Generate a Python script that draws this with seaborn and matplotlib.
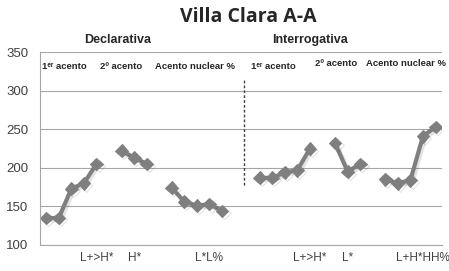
import matplotlib
matplotlib.use("Agg")
import matplotlib.pyplot as plt
import matplotlib.patheffects as pe
import numpy as np
import pandas as pd
import seaborn as sns

# F0 values (Hz) per category slot; None = empty slot between groups
declarativa = [135, 135, 173, 180, 205, None, 222, 213, 205, None,
               174, 156, 151, 153, 144, None]
interrogativa = [None, 187, 187, 194, 197, 225, None, 232, 195, 205, None,
                 185, 180, 184, 241, 253]
tick_labels = ["", "", "", "", "L+>H*", "", "", "H*", "", "", "", "", "", "L*L%", "", "",
               "", "", "", "", "", "L+>H*", "", "", "L*", "", "", "", "", "", "L+H*HH%", ""]
group_titles = ["Declarativa", "Interrogativa"]
accent_labels = ["1\u1d49\u02b3 acento", "2\u00ba acento", "Acento nuclear %"]

values = declarativa + interrogativa
rows = []
seg = 0
for i, v in enumerate(values):
    if v is None:
        seg += 1
        continue
    rows.append({"pos": i, "f0": v, "segment": seg})
df = pd.DataFrame(rows)

sns.set_theme(style="white")
plt.rcParams["font.family"] = ["DejaVu Sans"]
narrow = ["Liberation Sans Narrow", "Liberation Sans", "DejaVu Sans"]

fig = plt.figure(figsize=(4.49, 2.71), dpi=100)
ax = fig.add_axes([0.089, 0.096, 0.895, 0.712])

grey = "#7f7f7f"
sns.lineplot(data=df, x="pos", y="f0", units="segment", estimator=None,
             color=grey, linewidth=3, marker="D", markersize=6.5,
             markeredgecolor=grey, markerfacecolor=grey, ax=ax,
             path_effects=[pe.SimpleLineShadow(offset=(1.5, -1.5), alpha=0.12),
                           pe.Normal()])

ax.set_xlim(-0.5, len(values) - 0.5)
ax.set_ylim(100, 350)
ax.set_yticks(np.arange(100, 351, 50))
ax.yaxis.grid(True, color="#a6a6a6", linewidth=0.8)
ax.set_axisbelow(True)
ax.set_xticks(range(len(values)))
ax.set_xticklabels(tick_labels, family=narrow)
for lbl in ax.get_yticklabels():
    lbl.set_family(["Liberation Sans", "DejaVu Sans"])
ax.tick_params(axis="x", length=0, labelsize=8.5, colors="#404040", pad=5)
ax.tick_params(axis="y", length=0, labelsize=9.5, colors="#404040", pad=8.5)
ax.set_xlabel("")
ax.set_ylabel("")
for name, sp in ax.spines.items():
    sp.set_visible(name in ("left", "bottom"))
    sp.set_color("#a6a6a6")
    sp.set_linewidth(0.8)

# divider between the two sentence types
ax.plot([15.76, 15.76], [178, 316], color="#404040", linestyle=(0, (2, 1.5)), linewidth=1)

# accent annotations
accent_x = [-0.35, 4.3, 8.7, 16.3, 21.4, 25.5]
accent_y = [331, 331, 331, 331, 334.5, 334.5]
for k, (x, y) in enumerate(zip(accent_x, accent_y)):
    ax.text(x, y, accent_labels[k % 3], fontsize=6.8, fontweight="bold",
            family=narrow, color="#262626", ha="left", va="center")

fig.text(0.262, 0.852, group_titles[0], fontsize=9, fontweight="bold",
         family=narrow, color="#262626", ha="center", va="center")
fig.text(0.690, 0.852, group_titles[1], fontsize=9, fontweight="bold",
         family=narrow, color="#262626", ha="center", va="center")
fig.suptitle("Villa Clara A-A", x=0.553, y=0.975, fontsize=14, fontweight="bold",
             family=["Open Sans", "DejaVu Sans"], color="#262626", va="top")

fig.savefig("out.png", dpi=100)
